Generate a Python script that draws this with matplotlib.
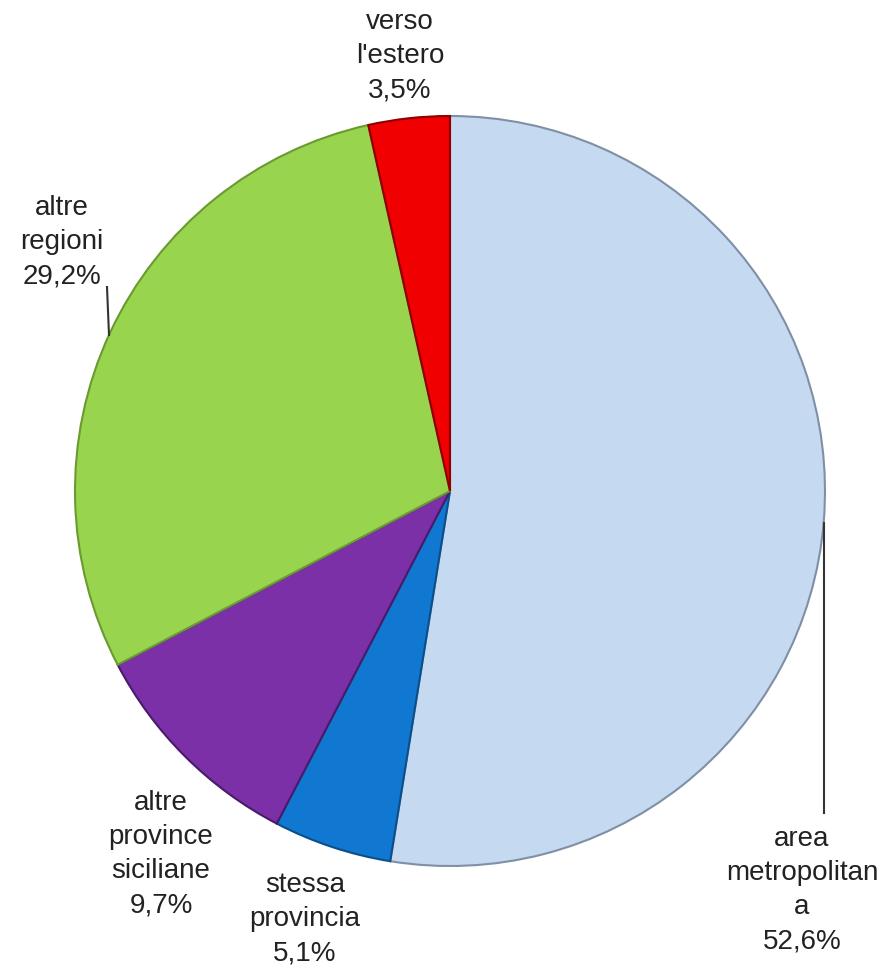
import matplotlib.pyplot as plt

# slices, clockwise from 12 o'clock
labels = ["area\nmetropolitan\na", "stessa\nprovincia", "altre\nprovince\nsiciliane",
          "altre\nregioni", "verso\nl'estero"]
values = [52.6, 5.1, 9.7, 29.2, 3.5]
value_text = ["52,6%", "5,1%", "9,7%", "29,2%", "3,5%"]
colors = ["#c5d9f1", "#1078d0", "#7b30a8", "#98d44e", "#f00000"]
edges = ["#7f90a6", "#0a4f8a", "#4a1a6a", "#6a9a30", "#900000"]

W, H = 891, 969
fig = plt.figure(figsize=(W / 100, H / 100), dpi=100)
ax = fig.add_axes([0, 0, 1, 1])

cx, cy, r = 450, H - 491, 375
wedges, _ = ax.pie(values, colors=colors, startangle=90, counterclock=False,
                   center=(cx, cy), radius=r, frame=True,
                   wedgeprops=dict(linewidth=1.5))
for w, ec in zip(wedges, edges):
    w.set_edgecolor(ec)
ax.set_xlim(0, W)
ax.set_ylim(0, H)
ax.set_aspect("equal")
ax.axis("off")

# label centres (pixel coords from top)
label_pos = [(802, 890), (305, 919), (161, 854), (62, 242), (400, 56)]
for lab, vt, (x, y) in zip(labels, value_text, label_pos):
    ax.text(x, H - y, lab + "\n" + vt, ha="center", va="center",
            fontsize=20, family=["Liberation Sans", "DejaVu Sans"],
            color="#222222", linespacing=1.4)

# leader lines
ax.plot([824, 824], [H - 523, H - 813], color="#333333", lw=1.5)
ax.plot([107, 109], [H - 287, H - 335], color="#333333", lw=1.5)

fig.savefig("out.png", dpi=100)
